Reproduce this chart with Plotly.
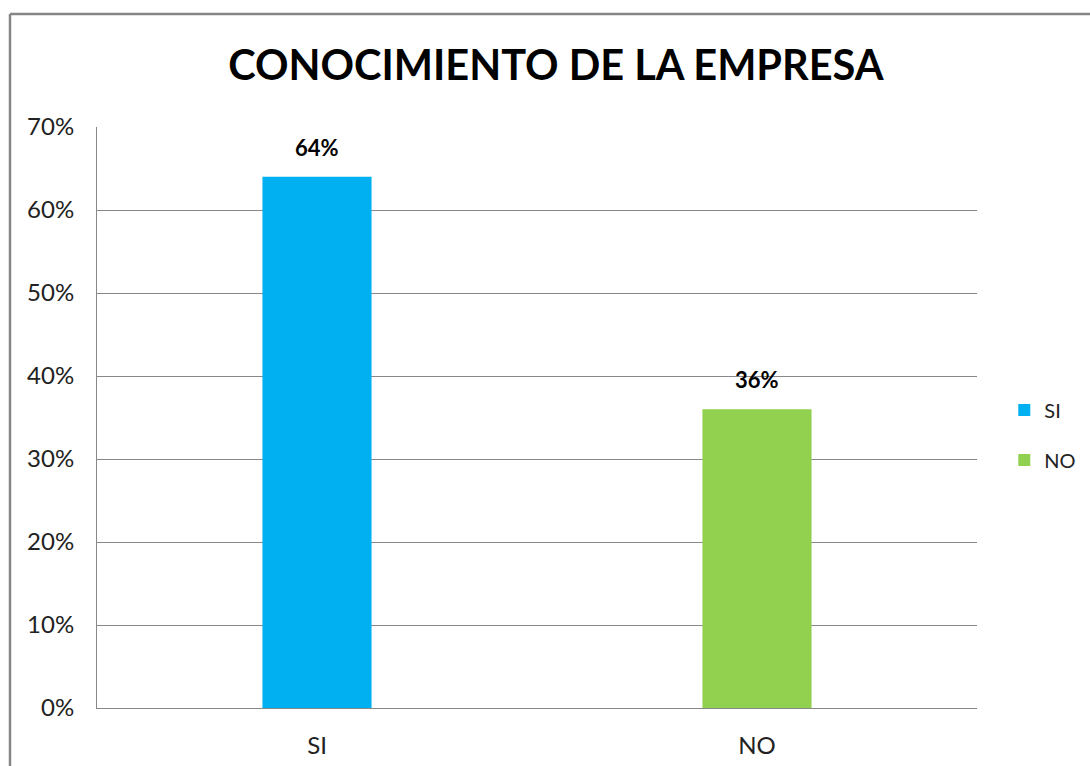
import plotly.graph_objects as go

categories = ["SI", "NO"]
values = [0.64, 0.36]
colors = ["#00B0F0", "#92D050"]
y_ticks = [0, 0.1, 0.2, 0.3, 0.4, 0.5, 0.6, 0.7]
y_tick_labels = ["0%", "10%", "20%", "30%", "40%", "50%", "60%", "70%"]

FONT = "Lato, Open Sans, sans-serif"

fig = go.Figure()
for cat, val, col in zip(categories, values, colors):
    fig.add_trace(go.Bar(
        x=[cat], y=[val], name=cat,
        marker=dict(color=col, line=dict(width=0)),
        width=0.248,
        legendgroup=cat,
    ))
    # value label floating above the bar
    fig.add_annotation(
        x=cat, y=val, text=f"<b>{round(val * 100)}%</b>",
        showarrow=False, yanchor="bottom", yshift=14,
        font=dict(family=FONT, size=22, color="#000000"),
    )

fig.update_layout(
    width=1090, height=766,
    margin=dict(l=97, r=113, t=127, b=58, autoexpand=False),
    paper_bgcolor="white", plot_bgcolor="white",
    barmode="overlay",
    title=dict(
        text="<b>CONOCIMIENTO DE LA EMPRESA</b>",
        x=0.51, xanchor="center", y=0.914, yanchor="middle",
        font=dict(family=FONT, size=41.5, color="#000000"),
    ),
    font=dict(family=FONT, size=24, color="#222222"),
    showlegend=True,
    legend=dict(
        x=1.031, xanchor="left", y=0.47, yanchor="middle",
        font=dict(family=FONT, size=20, color="#222222"),
        tracegroupgap=21, itemwidth=30,
        bgcolor="rgba(0,0,0,0)",
    ),
    xaxis=dict(
        categoryorder="array", categoryarray=categories,
        showline=True, linecolor="#888888", linewidth=1,
        showgrid=False, ticks="", ticklabelstandoff=16,
        tickfont=dict(family=FONT, size=24), automargin=False,
    ),
    yaxis=dict(
        range=[0, 0.7], tickvals=y_ticks, ticktext=y_tick_labels,
        showline=True, linecolor="#888888", linewidth=1,
        showgrid=True, gridcolor="#888888", gridwidth=1,
        zeroline=False, ticks="", ticklabelstandoff=17,
        tickfont=dict(family=FONT, size=24), automargin=False,
    ),
)

# outer chart frame (top and left edges visible)
fig.add_shape(type="line", xref="paper", yref="paper",
              x0=-87 / 880, x1=1.2, y0=694 / 581, y1=694 / 581,
              line=dict(color="#868686", width=2.5))
fig.add_shape(type="line", xref="paper", yref="paper",
              x0=-87 / 880, x1=-87 / 880, y0=694 / 581, y1=-0.2,
              line=dict(color="#868686", width=2.5))

fig.write_html("out.html")
